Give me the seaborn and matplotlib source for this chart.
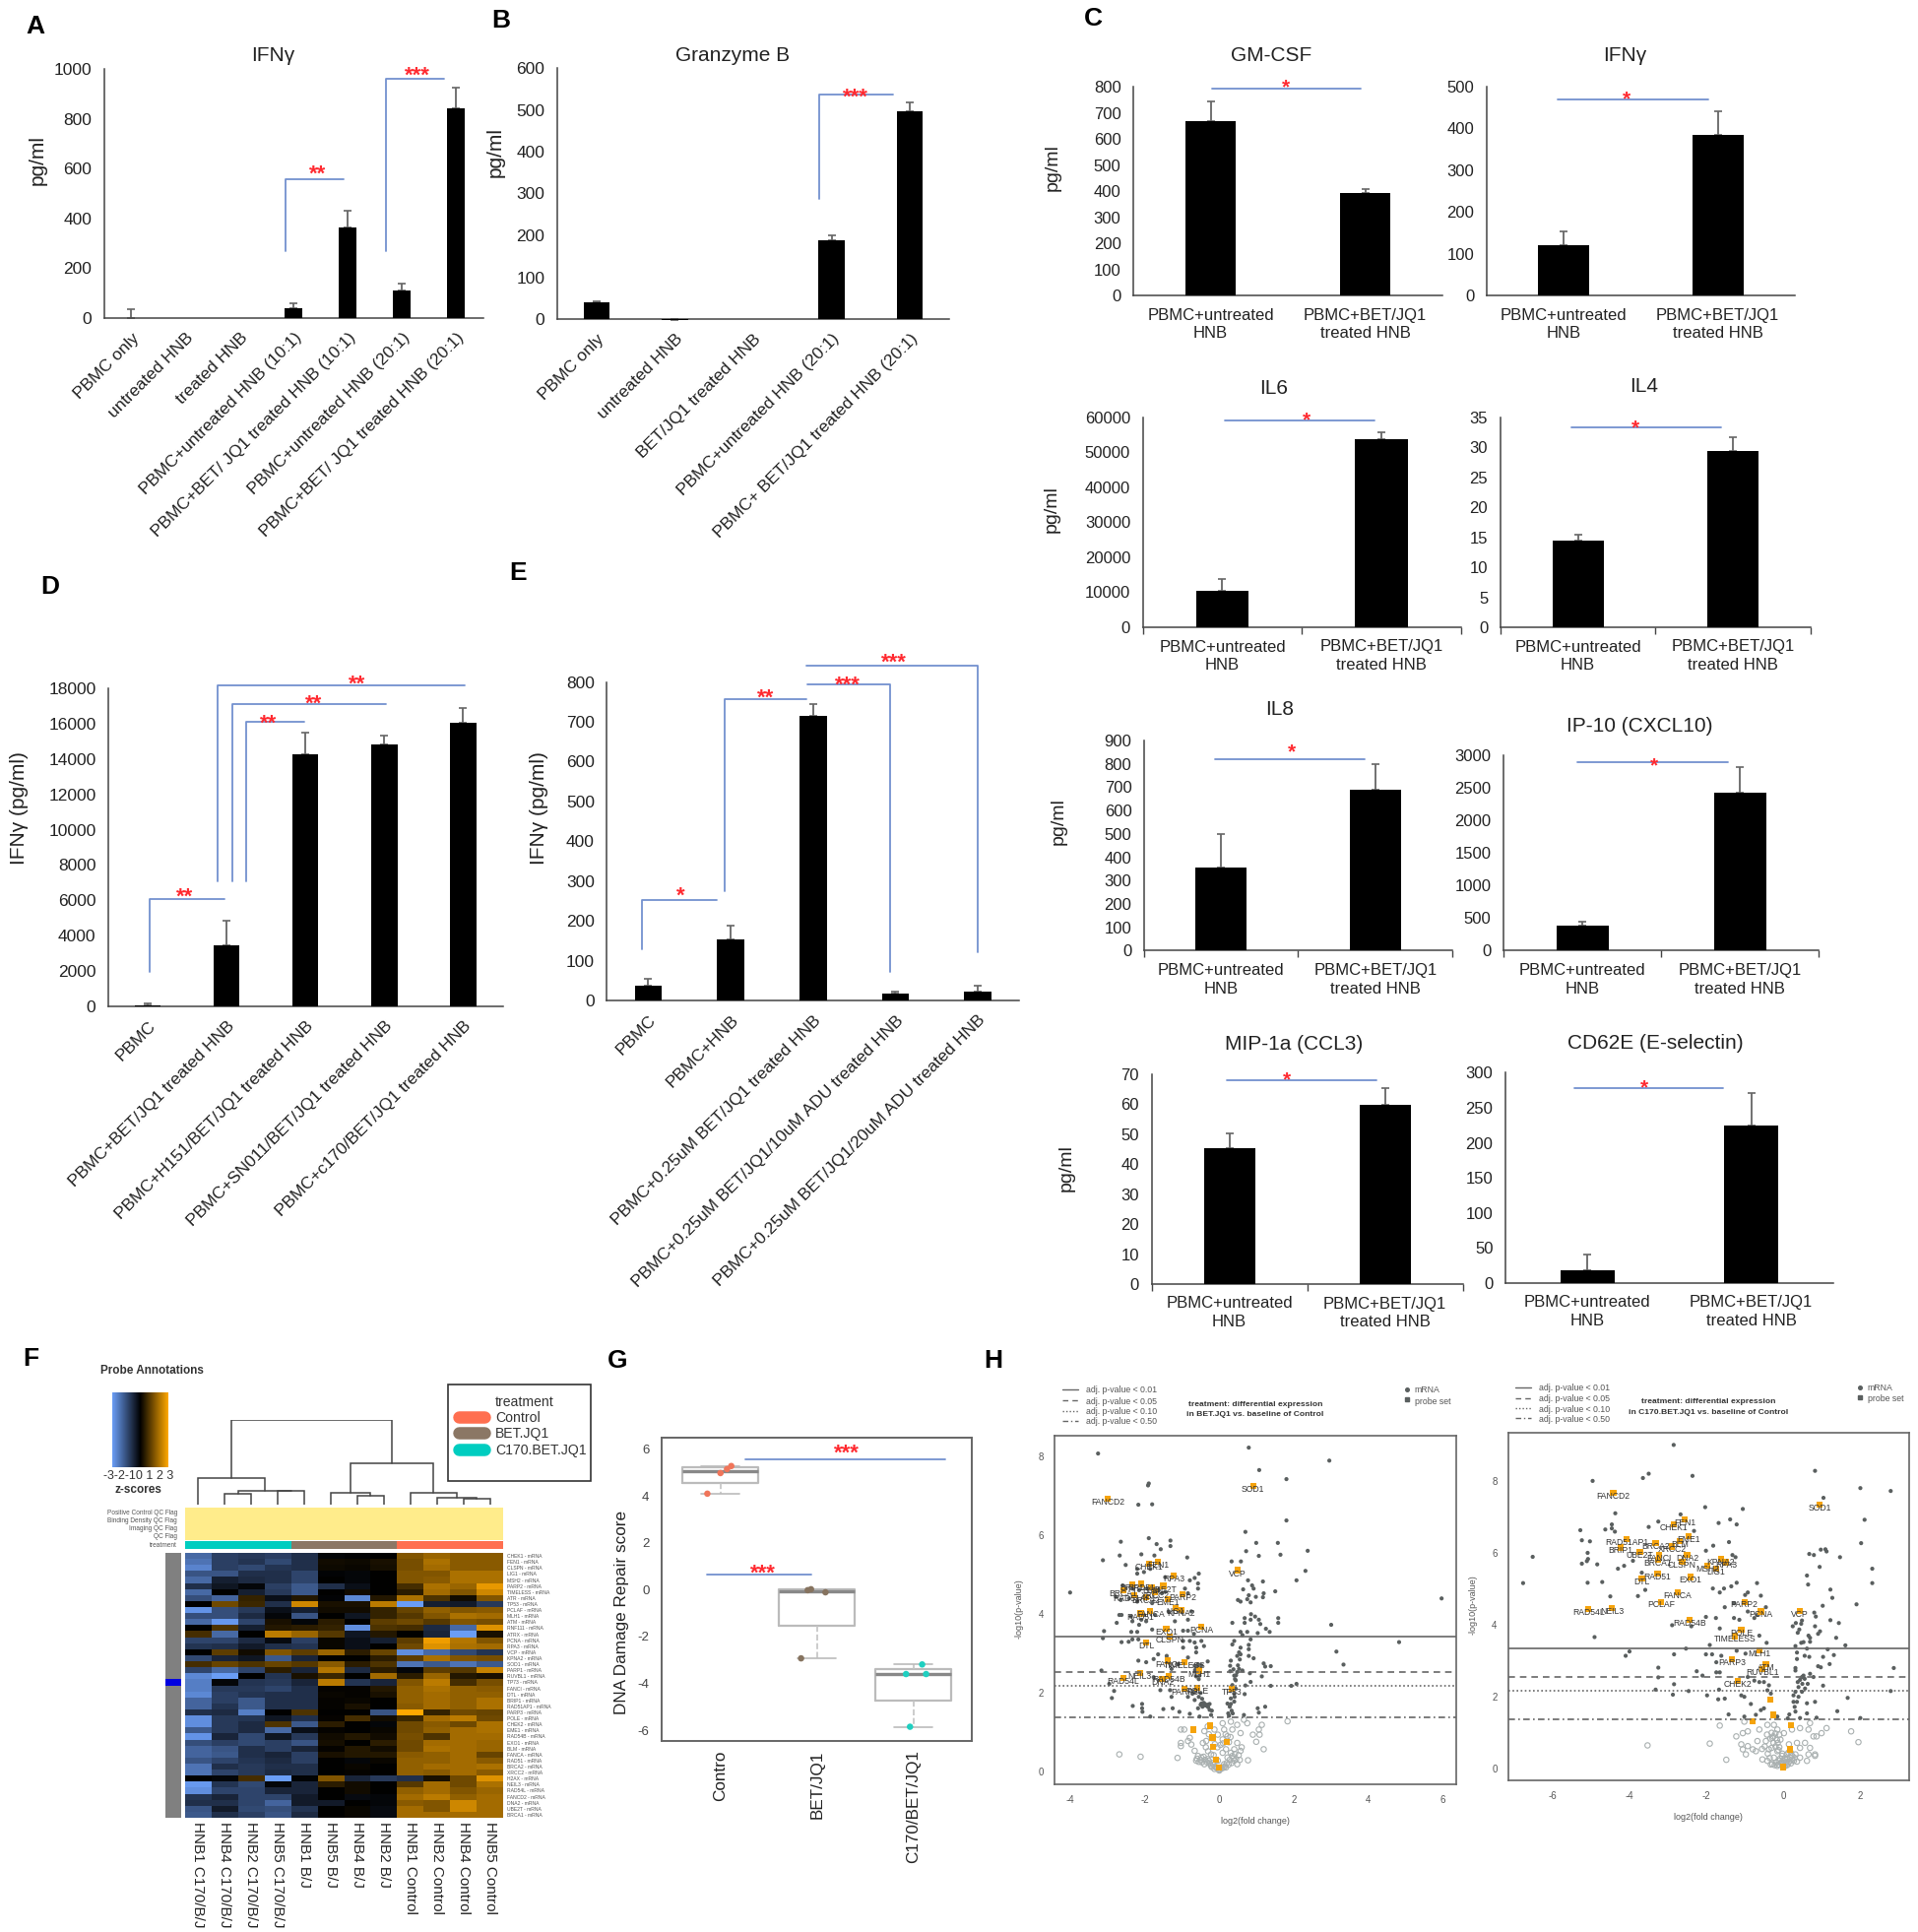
import numpy as np
import matplotlib
matplotlib.use("Agg")
import matplotlib.pyplot as plt
from matplotlib.colors import LinearSegmentedColormap, ListedColormap
from matplotlib.lines import Line2D
import seaborn as sns

sns.set_theme(style="white")
plt.rcParams['font.family'] = ['Liberation Sans', 'DejaVu Sans']
plt.rcParams['axes.unicode_minus'] = False

# ---------- bar panel data ----------
a_cats = ["PBMC only", "untreated HNB", "treated HNB", "PBMC+untreated HNB (10:1)",
          "PBMC+BET/ JQ1 treated HNB (10:1)", "PBMC+untreated HNB (20:1)",
          "PBMC+BET/ JQ1 treated HNB (20:1)"]
a_vals = [0, 0, 0, 40, 365, 112, 840]
a_tops = [35, 0, 0, 60, 432, 138, 925]

b_cats = ["PBMC only", "untreated HNB", "BET/JQ1 treated HNB", "PBMC+untreated HNB (20:1)",
          "PBMC+ BET/JQ1 treated HNB (20:1)"]
b_vals = [40, -2, 0, 188, 497]
b_tops = [42, 0, 0, 201, 517]

d_cats = ["PBMC", "PBMC+BET/JQ1 treated HNB", "PBMC+H151/BET/JQ1 treated HNB",
          "PBMC+SN011/BET/JQ1 treated HNB", "PBMC+c170/BET/JQ1 treated HNB"]
d_vals = [75, 3430, 14250, 14800, 16050]
d_tops = [180, 4850, 15500, 15300, 16900]

e_cats = ["PBMC", "PBMC+HNB", "PBMC+0.25uM BET/JQ1 treated HNB",
          "PBMC+0.25uM BET/JQ1/10uM ADU treated HNB", "PBMC+0.25uM BET/JQ1/20uM ADU treated HNB"]
e_vals = [37, 153, 715, 17, 23]
e_tops = [55, 187, 745, 22, 38]

c_cats = ["PBMC+untreated\nHNB", "PBMC+BET/JQ1\ntreated HNB"]
gm_vals, gm_tops = [668, 393], [743, 408]
ifn_vals, ifn_tops = [122, 384], [155, 440]
il6_vals, il6_tops = [10500, 53800], [13700, 55800]
il4_vals, il4_tops = [14.5, 29.3], [15.4, 31.7]
il8_vals, il8_tops = [355, 688], [500, 797]
ip10_vals, ip10_tops = [390, 2430], [450, 2820]
mip_vals, mip_tops = [45.2, 59.7], [50.4, 65.3]
cd62_vals, cd62_tops = [18, 224], [41, 271]

# ---------- heatmap data ----------
heat_columns = ["HNB1 C170/B/J", "HNB4 C170/B/J", "HNB2 C170/B/J", "HNB5 C170/B/J", "HNB1 B/J", "HNB5 B/J",
                "HNB4 B/J", "HNB2 B/J", "HNB1 Control", "HNB2 Control", "HNB4 Control", "HNB5 Control"]
heat_genes = ["CHEK1", "FEN1", "CLSPN", "LIG1", "MSH2", "PARP2", "TIMELESS", "ATR", "TP53", "PCLAF", "MLH1",
              "ATM", "RNF111", "ATRX", "PCNA", "RPA3", "VCP", "KPNA2", "SOD1", "PARP1", "RUVBL1", "TP73",
              "FANCI", "DTL", "BRIP1", "RAD51AP1", "PARP3", "POLE", "CHEK2", "EME1", "RAD54B", "EXO1", "BLM",
              "FANCA", "RAD51", "BRCA2", "XRCC2", "H2AX", "NEIL3", "RAD54L", "FANCD2", "DNA2", "UBE2T", "BRCA1"]
heat_values = [
    [-2.0, -1.2, -1.1, -1.2, -0.9, -0.1, -0.05, 0, 1.5, 1.8, 1.6, 1.6],
    [-2.2, -1.2, -1.0, -1.4, -0.9, 0.2, 0.15, 0.3, 1.4, 2.0, 1.6, 1.6],
    [-2.5, -1.2, -1.4, -1.0, -0.9, 0.15, 0.1, 0.25, 1.4, 1.9, 1.6, 1.6],
    [-1.6, -1.6, -0.9, -0.9, -1.3, -0.05, -0.1, 0, 1.5, 1.5, 2.0, 2.0],
    [-2.0, -0.6, -0.8, -0.9, -1.3, 0, -0.1, 0, 1.5, 1.6, 2.0, 2.0],
    [-0.9, -0.4, -0.1, -1.2, -1.7, -0.9, -0.3, 0, 0.8, 2.0, 1.8, 2.7],
    [-2.0, 0, -0.6, -1.1, -1.7, 0, 0.2, 0, 0.5, 1.9, 1.5, 2.4],
    [-1.5, -1.9, 0.6, -0.3, 0.4, -0.05, -2.6, 0.4, 2.0, 0.9, 0.2, 1.5],
    [0, 1.3, 0.7, -0.9, 2.4, 0.3, 0.3, 2.2, -3.0, -0.6, -0.5, -1.1],
    [-2.8, -1.5, -1.1, -0.3, -0.6, 0.2, 0.2, 0.6, 1.2, 1.7, 1.5, 1.6],
    [-1.5, -1.5, -0.8, -0.1, -1.6, 0, -0.4, 0.6, 1.0, 1.5, 2.0, 1.9],
    [-2.0, -2.9, -1.3, 0.3, -0.1, 0.5, 0, 1.1, 1.3, 1.0, 1.5, 1.4],
    [0, 0.9, -0.6, 0.4, 0.5, 0.6, -2.7, 0.9, 0.8, -0.8, -2.0, 2.6],
    [0.8, -2.0, 0, 2.2, 1.8, 1.0, -0.4, 0.4, 0, -0.7, -3.0, 0.3],
    [-1.3, -1.3, -0.8, -0.2, -1.2, 0.1, -0.3, -0.6, 1.1, 2.8, 2.1, 1.5],
    [-1.0, -0.9, -0.5, -0.9, -1.0, 0.1, -0.3, 0, 1.3, 2.6, 2.0, 1.9],
    [0, 1.1, 0.2, 1.5, 1.1, 1.8, 0.5, 1.2, -2.7, -2.0, -1.4, -1.0],
    [-1.4, -0.7, -0.4, -1.7, -0.7, 0, 0, 0.5, 1.1, 2.0, 1.5, 1.4],
    [0.8, 1.2, 0.9, 1.2, 1.0, 1.6, 0.5, 0.9, -2.2, -1.7, -2.2, -1.7],
    [-1.3, -2.0, -1.3, 0.5, -0.7, 2.1, -0.8, 0.5, -0.1, 1.1, 1.0, 2.3],
    [-2.6, -3.0, 0, -1.0, 0.3, 0.7, 0, 1.9, 0.5, 1.8, 0.4, 0.3],
    [-2.4, -0.1, -1.0, -1.1, -0.7, 2.2, -1.0, -0.7, 1.5, 2.2, 0.8, 1.4],
    [-2.4, -1.1, -1.1, -1.3, -0.9, 0.05, 0.05, 0.4, 1.7, 2.0, 1.7, 1.6],
    [-2.6, -1.2, -1.0, -0.9, -0.9, 0.1, 0.05, 0.3, 1.7, 1.9, 1.7, 1.7],
    [-1.9, -1.2, -1.7, -0.9, -0.9, 0.05, 0.1, 0, 1.7, 1.9, 1.7, 2.0],
    [-1.9, -1.0, -1.7, -0.9, -0.9, 0.05, 0.3, 0, 1.6, 1.9, 1.7, 2.0],
    [-0.9, -0.8, -2.4, 0, 0.9, 0, 0, -1.6, 3.0, 0.6, 1.3, 1.2],
    [-2.7, -1.1, -1.0, -0.4, -0.9, 0.05, 0.8, 0.2, 0.7, 1.9, 2.2, 1.3],
    [-2.7, -1.1, -0.8, 0.9, -1.7, 0.5, 0, -0.1, 1.3, 1.6, 1.3, 2.0],
    [-1.7, -1.1, -0.8, -2.0, -0.3, 0.05, 0, 0.1, 1.3, 1.7, 1.9, 2.0],
    [-2.8, -0.7, -1.4, -0.4, -1.1, 0.2, 0.4, 0.2, 1.4, 0.9, 1.9, 1.9],
    [-1.5, -1.2, -1.4, -1.2, -1.6, 0.25, 0, 0.5, 1.3, 1.9, 1.9, 1.8],
    [-1.9, -1.6, -0.9, -1.2, -0.7, 0.05, 0.4, 0.2, 1.3, 2.0, 1.9, 1.8],
    [-1.9, -1.7, -0.9, -0.7, -1.2, 0.3, 0.4, 0.4, 1.6, 1.7, 1.9, 1.2],
    [-1.6, -1.3, -1.0, -0.8, -1.2, 0, -0.1, 0.1, 1.7, 1.7, 1.9, 1.6],
    [-2.2, -0.9, -1.1, -0.9, -0.9, 0, 0.1, 0, 1.7, 1.9, 1.9, 2.0],
    [-2.2, -1.3, -1.1, -0.8, -0.9, 0, 0.05, 0, 1.7, 1.6, 1.9, 1.6],
    [0, -0.1, 0.8, -3.0, -0.05, 1.5, -0.7, -1.1, -0.9, 0.3, 1.3, 2.6],
    [-2.9, -1.0, -1.4, -0.1, -0.7, 0.5, 0.2, 0, 1.0, 1.9, 1.3, 2.0],
    [-2.7, -1.3, -1.3, -0.7, -0.7, 0, 0.2, 0, 1.7, 1.9, 1.5, 1.8],
    [-1.0, -0.7, -1.3, -1.3, -0.5, 0, -0.2, -0.1, 1.9, 2.2, 1.7, 1.9],
    [-0.9, -0.9, -1.3, -1.9, -0.5, -0.5, 0, -0.1, 1.6, 1.5, 2.4, 1.9],
    [-1.6, -0.5, -1.4, -1.5, -1.0, 0, 0.1, -0.2, 1.9, 1.5, 2.4, 1.9],
    [-1.7, -0.9, -1.2, -1.6, -0.8, 0, 0.1, -0.2, 1.9, 1.9, 1.9, 1.9],
]
heat_treatment = [0, 0, 0, 0, 1, 1, 1, 1, 2, 2, 2, 2]
heat_annotation = [0] * 21 + [1] + [0] * 22
# (child a, child b, height): leaves 0-11, merged nodes numbered from 12
dendro_merges = [(10, 11, 15), (9, 12, 18), (8, 13, 31), (3, 4, 35), (1, 2, 28), (16, 15, 35),
                 (0, 17, 69), (6, 7, 23), (5, 19, 31), (20, 14, 109), (18, 21, 223)]

# ---------- box panel data ----------
g_names = ["Contro", "BET/JQ1", "C170/BET/JQ1"]
g_control = [4.1, 4.98, 5.15, 5.28]
g_bet = [-2.93, -0.02, 0.02, -0.11]
g_c170 = [-3.6, -3.6, -3.19, -5.85]
g_jitter = [[-0.136, 0, 0.068, 0.112], [-0.164, -0.095, -0.061, 0.089], [-0.075, 0.133, 0.092, -0.034]]

# ---------- volcano data, BET.JQ1 ----------
v1_dark_x = [-3.25, 0.79, 1.07, 2.95, 1.8, -1.89, -1.91, -2.17, -1.8, 1.8, 0.7, -2.64, -1.89, -1.31, -1.31, -1.68, -1.57,
             -2.67, -2.09, -1.74, -3.12, -0.86, -2.51, 0.99, 1.57, 0.72, 1.06, 1.64, 2.37, 0.33, 0.58, 2.31, 2.07, -4.0,
             5.96, 3.0, 4.82, 3.14, 3.33, 1.5, 1.17, 1.19, 1.17, 0.98, 0.88, 0.92, 0.77, 0.64, 0.79, 0.75, 0.5, 0.57, 0.84,
             0.85, 0.96, 1.06, 0.68, 0.68, 0.84, 0.35, 1.1, 1.58, 1.58, 1.25, 1.35, 0.75, 1.03, 0.57, 0.62,
             0.4, 0.35, 0.84, 0.79, 0.79, 0.57, 0.53, 0.48, 0.79, 0.92, 0.31, 0.57, 0.29, 0.53, 1.19, 1.23, 1.38, 0.29, 0.48,
             0.62, 0.4, 0.82, 1.14, 0.44, 0.84, 1.38, 1.93, 2.07, 0.7, 0.31, 0.44, 0.4, 0.68, 0.31, 0.22, 0.4, 1.03, 1.23,
             1.06, 0.24, 0.66,
             -3.09, -3.12, -2.62, -2.75, -2.68, -2.62, -2.33, -2.36, -2.2, -2.17, -2.43, -2.33, -2.15, -2.09, -1.96, -1.8,
             -1.19, -0.84, -0.97, -0.84, -0.68, -1.36, -0.97, -0.79, -0.66, -0.48, -0.41, -0.62, -0.97, -0.62, -1.64, -2.17,
             -1.96, -1.76, -1.41, -0.84, -0.31, -0.57, -1.1, -1.28, -0.66, -3.16, -0.53, -1.76, -2.95, -2.82, -2.88, -1.58,
             -1.32, -1.28, -0.84, -0.66, -2.32, -2.07, -2.07, -2.06, -1.85, -1.5, -1.25, -1.07, -0.79, -0.57, -0.48, -0.4,
             -0.31, -0.26, -0.53, -0.22,
             -2.2, -2.02, -2.2, -1.85, -1.45, -0.79, -0.66, -0.55, -0.57, -0.57, -0.92, -0.84, -2.59, -2.77, -2.51, -2.33,
             -2.15, -1.93, -1.76, -1.63, -1.54, -1.45, -2.64, -2.42, -2.2, -1.8, -1.36, -1.72, -2.37, -2.02, -0.75,
             -0.5, -0.45, -0.42, -0.37, -0.33, -0.3, -0.26, -0.2, -0.55, -0.5, -0.46, -0.6, -0.66, -0.72, -0.58, -0.52,
             -0.65, -0.48, -0.62, -0.55, 0.28, 0.33, 0.36, 0.41, 0.45, 0.5, 0.55, 0.3, 0.35, 0.42, 0.26, 0.31, 0.38]
v1_dark_y = [8.08, 8.23, 7.66, 7.9, 7.43, 7.32, 7.27, 6.78, 6.79, 6.38, 6.09, 5.84, 5.93, 5.87, 5.73, 5.78, 5.65,
             5.49, 5.52, 5.49, 5.37, 5.44, 5.25, 5.81, 5.81, 5.6, 5.48, 5.51, 5.61, 5.34, 5.34, 5.1, 4.86, 4.55,
             4.4, 3.73, 3.29, 3.05, 2.72, 4.58, 4.83, 4.53, 4.43, 4.44, 4.73, 4.65, 4.86, 4.63, 4.48, 4.38, 4.36, 4.32, 4.3,
             4.0, 3.94, 3.86, 3.9, 3.78, 3.86, 3.78, 3.75, 3.9, 3.78, 3.63, 3.55, 3.55, 3.52, 3.55, 3.47,
             3.32, 3.23, 3.36, 3.22, 3.11, 3.15, 3.03, 2.94, 2.94, 2.88, 2.82, 2.98, 2.69, 2.61, 2.75, 2.67, 2.68, 2.55, 2.53,
             2.57, 2.44, 2.5, 2.42, 2.32, 2.28, 2.18, 2.18, 2.23, 2.19, 2.15, 2.11, 1.98, 1.97, 1.86, 1.73, 1.78, 1.61, 1.65,
             1.5, 1.48, 1.44,
             3.57, 3.39, 3.29, 3.78, 3.98, 3.98, 3.82, 3.55, 3.55, 3.36, 3.3, 3.36, 3.73, 3.86, 3.82, 3.61,
             3.82, 3.86, 3.58, 3.58, 3.5, 3.4, 3.32, 3.32, 3.28, 3.32, 3.19, 3.15, 3.15, 3.03, 2.98, 2.82,
             2.78, 2.86, 2.94, 2.9, 2.8, 2.73, 2.73, 2.61, 2.69, 2.57, 2.44, 2.4, 2.23, 2.05, 1.87, 2.07,
             2.07, 1.9, 1.9, 1.82, 1.67, 1.72, 1.61, 1.52, 1.4, 1.59, 1.61, 1.52, 1.47, 1.61, 1.73, 1.73,
             1.69, 1.57, 1.4, 1.44,
             5.15, 5.07, 5.03, 5.15, 4.94, 4.86, 4.92, 5.03, 4.78, 4.65, 4.65, 4.53, 4.73, 4.44, 4.65, 4.65,
             4.61, 4.65, 4.57, 4.61, 4.53, 4.57, 4.36, 4.4, 4.32, 4.28, 4.07, 3.98, 3.94, 3.98, 4.07,
             1.7, 1.65, 1.75, 1.68, 1.7, 1.64, 1.72, 1.55, 1.9, 2.0, 1.85, 2.1, 2.05, 1.98, 2.65, 2.55,
             2.58, 2.7, 2.42, 2.35, 1.65, 1.55, 1.48, 1.9, 2.45, 2.7, 2.85, 2.05, 2.2, 2.35, 1.42, 1.72, 2.6]
v1_open_x = [-2.68, -2.11, -1.12, 1.83, 1.19, 0.77, -1.03, -0.94, -0.79, -0.84, -1.03, -1.03, -0.75, -0.66, -0.4, -0.31, -0.35,
             -0.44, -0.57, -0.62, -0.48, -0.31, -0.4, -0.22, -0.13, 0, 0.04, 0.13, 0.22, 0.4, 0.48, 0.35, 0.09, 0.18, 0.4, 0.48,
             0.57, 0.09, -0.04, -0.13, 0.09, 0.31, 0.48, 0.66, 0.75, 1.14, 1.06, 1.08, 0.9, 0.99, 0.13, 0.35, 0.22, 0.57, -0.22,
             -0.04, -0.18, 0.18, 0.31,
             -0.6, -0.55, -0.5, -0.47, -0.42, -0.38, -0.33, -0.28, -0.25, -0.2, -0.16, -0.1, -0.07, -0.03, 0.02, 0.07, 0.11,
             0.15, 0.2, 0.25, 0.28, 0.33, 0.38, 0.42, 0.45, 0.52, 0.55, 0.6, -0.28, -0.2, -0.12, -0.05, 0.03, 0.1, 0.17,
             0.26, 0.3, -0.36, -0.3, -0.15]
v1_open_y = [0.44, 0.38, 0.35, 1.28, 0.57, 0.29, 1.07, 1.07, 0.86, 0.78, 0.73, 0.65, 0.69, 0.53, 1.03, 1.15, 0.78,
             0.73, 0.4, 0.28, 0.36, 0.32, 0.19, 0.15, 0.07, 0.03, 0.11, 0.19, 0.36, 0.28, 0.19, 0.4, 0.48, 0.57, 0.57, 0.73,
             0.53, 0.82, 0.94, 1.07, 1.23, 1.27, 1.19, 1.32, 1.23, 1.19, 1.07, 0.94, 0.94, 0.76, 1.07, 1.07, 0.9, 0.98, 0.44,
             0.28, 0.22, 0.11, 0.48,
             0.33, 0.25, 0.3, 0.24, 0.38, 0.3, 0.24, 0.28, 0.2, 0.12, 0.18, 0.12, 0.1, 0.06, 0.06, 0.09, 0.1,
             0.14, 0.22, 0.18, 0.3, 0.22, 0.34, 0.45, 0.32, 0.42, 0.3, 0.62, 0.95, 0.85, 0.7, 0.62, 0.68, 0.72, 0.95,
             0.75, 0.88, 0.62, 0.52, 0.42]
v1_gene_x = [-2.99, 0.91, 0.5, -1.88, -1.64, -1.22, -2.33, -2.09, -1.82, -1.5, -2.57, -2.27, -1.97, -1.72, -0.98, -1.39, -1.18,
             -1.02, -1.85, -2.11, -1.42, -0.48, -1.32, -1.96, -1.39, -0.94, -0.53, -2.13, -1.35, -2.57, -1.53, -0.94, -0.59,
             0.33, -0.24, -0.69, -0.18, 0.21, -0.17, -0.09, -0.02]
v1_gene_y = [6.93, 7.25, 5.12, 5.29, 5.34, 4.98, 4.75, 4.77, 4.69, 4.72, 4.6, 4.48, 4.43, 4.57, 4.51, 4.38, 4.16,
             4.1, 4.08, 4.02, 3.63, 3.68, 3.43, 3.28, 2.82, 2.78, 2.57, 2.51, 2.44, 2.38, 2.36, 2.11, 2.13,
             2.11, 1.17, 1.07, 0.87, 0.76, 0.64, 0.3, 0.11]
v1_gene_names = ["FANCD2", "SOD1", "VCP", "CHEK1", "FEN1", "RPA3", "BRIP1", "RAD51", "BLM", "UBE2T", "BRCA1", "RAD51AP1",
                 "BRCA2", "XRCC2", "PARP2", "EME1", "LIG1", "KPNA2", "FANCA", "RAD51", "EXO1", "PCNA", "CLSPN", "DTL",
                 "FANCI", "TIMELESS", "MLH1", "NEIL3", "RAD54B", "RAD54L", "DNA2", "PARP3", "POLE", "TP53",
                 "", "", "", "", "", "", ""]

# ---------- volcano data, C170.BET.JQ1 ----------
v2_dark_x = [-2.85, 0.83, 2.01, 2.8, -4.96, -3.65, -3.5, -2.36, 1.05, -2.03, -1.05, -4.37, -2.67, 2.12, -4.46, -4.46, -4.63,
             -4.38, -3.5, -3.25, -5.28, -5.24, -5.03, -1.68, -1.38, -1.21, -2.32, -5.09, -6.52, -5.24, -5.08, -5.11, -4.84,
             -6.77, -5.09, -4.71, 2.03, 0.98, 1.1, 1.13, 0.68, 0.8, 1.48, 0.95, 2.32, 0.62, 0.65, 2.32, 1.23, 1.28, 1.91, 1.03,
             0.81, 0.85, 1.23, 1.45, 0.49, 0.33, 0.25, 0.47, 0.83, 0.42, 0.38, 0.96, 0.91, 0.66, 0.7, 1.38, 0.7, 0.47, 0.53,
             0.32, 1.62, 0.62, 1.16, 0.36, 1.32, 0.56, 0.68, 1.04, 0.36, 1.21, 0.91, 0.98, 2.88, 0.32, 0.32, 0.7, 0.53, 0.49,
             0.79, 0.44, 0.56, 0.38, 0.5, 0.64, 0.4, 1.04, 0.57, 2.8, 0.32, 0.49, 0.27, 0.4, 1.68, 0.27, 0.83, 0.36, 0.3, 0.62,
             1.41, 0.32, 0.16, 0.62, 0.87, 2.01, 0.44,
             -4.3, -4.14, -3.91, -3.68, -3.78, -3.59, -4.5, -4.91, -4.0, -4.1, -2.89, -2.39, -2.01, -1.75, -1.65, -1.28, -1.14,
             -1.54, -1.65, -1.83, -1.35, -1.21, -0.68, -0.99, -0.92, -0.58, -1.28, -1.52, -0.92, -0.45, -0.75, -0.67, -2.01,
             -1.82, -1.32, -1.24, -1.41, -0.62, -0.43, -1.91, -2.53, -2.84, -2.01, -1.85, -1.61, -1.74, -1.21, -0.98, -3.25,
             -3.25, -3.32, -2.84, -2.87, -2.46, -2.25, -2.1, -1.98, -1.74, -1.65, -1.67, -1.69, -1.52, -1.09, -1.01, -0.92,
             -0.75, -0.62, -0.5, -0.37, -0.41, -0.84, -0.58, -0.71, -1.01, -1.42, -0.32, -0.5, 0.12, -0.15]
v2_dark_y = [9.0, 8.28, 7.8, 7.72, 8.0, 8.08, 8.2, 8.14, 7.53, 7.27, 7.22, 7.1, 7.07, 6.92, 6.79, 6.68, 6.65,
             6.59, 6.72, 6.87, 6.63, 6.35, 6.32, 6.83, 6.93, 6.79, 6.61, 6.0, 5.89, 5.7, 5.83, 5.77, 5.68,
             5.16, 5.17, 5.19, 6.27, 6.09, 6.1, 6.04, 5.97, 5.94, 5.88, 5.61, 5.56, 5.37, 5.12, 5.16, 4.98, 4.75, 4.57, 4.53,
             4.34, 4.23, 4.13, 4.05, 4.12, 4.05, 3.96, 4.03, 3.96, 3.87, 3.78, 3.82, 3.75, 3.7, 3.64, 3.64, 3.53, 3.5, 3.52,
             3.41, 3.43, 3.34, 3.32, 3.23, 3.16, 3.14, 3.11, 3.11, 3.05, 2.91, 2.85, 2.82, 2.8, 2.8, 2.73, 2.64, 2.59, 2.55,
             2.55, 2.47, 2.5, 2.41, 2.36, 2.36, 2.27, 2.31, 2.23, 2.16, 2.14, 2.14, 2.04, 2.0, 1.97, 1.86, 1.86, 1.86, 1.72, 1.82,
             1.6, 1.59, 1.51, 1.54, 1.42, 1.41, 1.41,
             5.56, 5.64, 5.78, 5.45, 4.8, 4.97, 4.79, 3.66, 3.26, 3.14, 3.99, 3.96, 4.22, 4.19, 3.9, 4.19, 4.14,
             5.01, 4.9, 5.01, 5.07, 5.17, 5.16, 4.83, 4.9, 4.81, 4.6, 4.49, 4.37, 4.49, 4.19, 4.28, 6.06,
             6.2, 5.94, 5.88, 6.3, 3.7, 3.5, 3.44, 3.34, 3.18, 3.18, 3.18, 3.14, 2.96, 3.28, 3.2, 2.81,
             2.54, 2.2, 2.35, 2.06, 2.16, 2.71, 2.59, 2.04, 2.68, 2.68, 2.2, 1.93, 1.95, 2.04, 2.0, 2.55,
             2.45, 2.41, 2.41, 2.32, 2.18, 1.8, 1.63, 1.5, 1.45, 1.51, 2.09, 1.68, 1.4, 1.45]
v2_open_x = [-3.53, -1.91, -1.48, 1.77, 1.96, -1.65, -1.22, -1.01, -1.05, -0.92, -1.09, -1.05, -0.92, -0.97, -0.67, -0.79, -0.54,
             -0.41, -0.28, -0.15, -0.03, 0.1, 0.23, 0.44, 0.62, 0.83, 0.79, 0.87, 1.13, 1.0, 0.66, 0.57, 0.7, 0.44, 0.36, 0.15,
             0.02, -0.15, -0.28, -0.45, -0.37, -0.15, -0.03, 0.1, -0.24, -0.62, -0.41, -0.24, 0.23, 0.44, 0.7, -0.07, 0.19,
             0.06, -0.11, 0.32, -0.71, 0.66, 0.83,
             -0.55, -0.48, -0.4, -0.35, -0.3, -0.25, -0.2, -0.16, -0.12, -0.08, -0.04, 0, 0.04, 0.08, 0.12, 0.16, 0.2, 0.24,
             0.28, -0.3, -0.26, -0.2, -0.14, -0.1, -0.02, 0.05, 0.14, -0.32, -0.22, -0.18, -0.12, 0.1, 0.02, -0.05, 0.2, 0.3,
             0.36, -0.42, -0.33, -0.1]
v2_open_y = [0.65, 0.7, 0.25, 1.04, 0.74, 1.2, 0.9, 1.31, 0.99, 1.04, 0.68, 0.54, 0.63, 0.4, 0.77, 0.54, 0.26,
             0.22, 0.13, 0.08, 0.16, 0.1, 0.26, 0.31, 0.22, 0.4, 0.9, 0.9, 1.13, 0.99, 1.09, 0.72, 0.58, 0.58, 0.72, 0.68,
             0.99, 1.09, 0.86, 0.77, 0.54, 0.49, 0.36, 0.4, 0.31, 1.09, 1.22, 1.22, 1.09, 1.13, 1.27, 0.81, 0.31,
             0.25, 0.22, 0.4, 0.49, 0.4, 0.36,
             0.55, 0.62, 0.42, 0.3, 0.58, 0.72, 0.62, 0.8, 0.52, 0.28, 0.18, 0.12, 0.07, 0.18, 0.13, 0.2, 0.15, 0.36,
             0.22, 1.0, 0.9, 0.98, 0.72, 0.95, 0.42, 0.3, 0.45, 0.12, 0.1, 0.17, 0.12, 0.28, 0.22, 0.15, 0.45, 0.3,
             0.2, 0.95, 0.84, 0.6]
v2_gene_x = [-4.42, 0.95, -2.56, -2.85, -2.46, -4.07, -2.7, -3.32, -2.89, -4.23, -3.73, -3.23, -2.5, -3.26, -1.62, -1.48, -2.63,
             -1.97, -1.75, -3.27, -3.68, -2.42, -2.75, -3.17, -1.01, -0.58, 0.43, -5.07, -4.46, -2.44, -1.09, -1.25, -0.62,
             -1.34, -0.45, -0.54, -1.19, -0.34, -0.26, -0.79, 0.21, 0.18, 0.0]
v2_gene_y = [7.66, 7.34, 6.93, 6.79, 6.47, 6.38, 6.32, 6.27, 6.18, 6.15, 6.03, 5.94, 5.94, 5.81, 5.83, 5.74, 5.76,
             5.65, 5.56, 5.42, 5.28, 5.33, 4.9, 4.64, 4.64, 4.37, 4.39, 4.44, 4.46, 4.14, 3.87, 3.69, 3.28,
             3.05, 2.91, 2.77, 2.45, 1.93, 1.5, 1.31, 1.2, 0.54, 0.05]
v2_gene_names = ["FANCD2", "SOD1", "FEN1", "CHEK1", "EME1", "RAD51AP1", "BLM", "BRCA2", "XRCC2", "BRIP1", "UBE2T", "FANCI",
                 "DNA2", "BRCA1", "KPNA2", "RPA3", "CLSPN", "MSH2", "LIG1", "RAD51", "DTL", "EXO1", "FANCA", "PCLAF",
                 "PARP2", "PCNA", "VCP", "RAD54L", "NEIL3", "RAD54B", "POLE", "TIMELESS", "MLH1", "PARP3", "ATM", "RUVBL1",
                 "CHEK2", "", "", "", "", "", ""]
pvalue_labels = ["adj. p-value < 0.01", "adj. p-value < 0.05", "adj. p-value < 0.10", "adj. p-value < 0.50"]
v1_thresholds = [3.44, 2.53, 2.18, 1.375]
v2_thresholds = [3.34, 2.54, 2.16, 1.38]

# ---------- layout ----------
W, H = 1949, 1962
fig = plt.figure(figsize=(W / 100, H / 100), dpi=100, facecolor="white")


def axpx(x0, y0, x1, y1, **kw):
    return fig.add_axes([x0 / W, 1 - y1 / H, (x1 - x0) / W, (y1 - y0) / H], **kw)


ov = fig.add_axes([0, 0, 1, 1], zorder=50)
ov.set_xlim(0, W)
ov.set_ylim(H, 0)
ov.axis("off")
ov.patch.set_alpha(0)

TXT = "#222222"
BLUE = "#7391cf"
RED = "#ff2a30"


def label(x, y, s, size=13, rot=0, weight="normal", color=TXT, ha="center", va="center"):
    ov.text(x, y, s, fontsize=size, rotation=rot, fontweight=weight, color=color, ha=ha, va=va)


def bracket(ax, xs, ys, star_x, star_y, n):
    ax.plot(xs, ys, color=BLUE, lw=1.3, clip_on=False, zorder=5)
    ax.annotate("*" * n, (star_x, star_y), xytext=(0, -5), textcoords="offset points", ha="center", va="center",
                fontsize=16, fontweight="bold", color=RED, annotation_clip=False, zorder=6)


def bars(box, cats, vals, tops, ymax, step, rot=45, fs=12.5, tick=12.5, xb=False):
    ax = axpx(*box)
    sns.barplot(x=cats, y=vals, color="black", width=0.33, saturation=1, ax=ax, zorder=3, linewidth=0)
    for p in ax.patches:
        p.set_clip_on(False)
    n = len(cats)
    v = np.array(vals, float)
    t = np.array(tops, float)
    keep = t > v
    ax.errorbar(np.arange(n)[keep], v[keep], yerr=[np.zeros(keep.sum()), (t - v)[keep]], fmt="none", ecolor="#666666",
                elinewidth=1.3, capsize=3, capthick=1.2, zorder=2, clip_on=False)
    ax.set_xlim(-0.5, n - 0.5)
    ax.set_ylim(0, ymax)
    ax.set_yticks(np.arange(0, ymax + step / 2, step))
    ax.set_xticks(range(n))
    if rot:
        ax.set_xticklabels(cats, rotation=rot, ha="right", rotation_mode="anchor", fontsize=fs, color=TXT)
    else:
        ax.set_xticklabels(cats, fontsize=fs, color=TXT, linespacing=1.3)
    ax.tick_params(axis="x", length=0, pad=9)
    ax.tick_params(axis="y", length=6, width=1, color="#444444", labelsize=tick, labelcolor=TXT, pad=3)
    if xb:
        ax.set_xticks([-0.5, 0.5, 1.5], minor=True)
        ax.tick_params(axis="x", which="minor", length=5, width=1, color="#444444", bottom=True)
    for s in ["top", "right"]:
        ax.spines[s].set_visible(False)
    for s in ["left", "bottom"]:
        ax.spines[s].set_color("#444444")
        ax.spines[s].set_linewidth(1.1)
    ax.set_xlabel("")
    ax.set_ylabel("")
    ax.patch.set_alpha(0)
    return ax


# Panels A, B
ax = bars((106, 70, 490.7, 323), a_cats, a_vals, a_tops, 1000, 200)
bracket(ax, [2.84, 2.84, 3.92], [268, 556, 556], 3.45, 603, 2)
bracket(ax, [4.7, 4.7, 5.77], [268, 962, 962], 5.28, 1000, 3)
label(277.7, 56, "IFNγ", 15)
label(37.7, 162, "pg/ml", 15, 90)
label(35.7, 27, "A", 19, weight="bold", color="black")

ax = bars((566, 69, 964, 324), b_cats, b_vals, b_tops, 600, 100)
bracket(ax, [2.84, 2.84, 3.79], [286.5, 536, 536], 3.3, 546, 3)
label(744, 56, "Granzyme B", 15)
label(502.7, 155, "pg/ml", 15, 90)
label(508.3, 21.4, "B", 19, weight="bold", color="black")

# Panel C
c_spec = [
    ((1151, 88, 1465, 300.4), "GM-CSF", gm_vals, gm_tops, 800, 100, False, (0.008, 0.97, 793, 0.49, 823), (1291, 57)),
    ((1510, 88, 1823, 300.4), "IFNγ", ifn_vals, ifn_tops, 500, 100, False, (-0.04, 0.94, 468.5, 0.41, 485), (1650, 57)),
    ((1160.6, 423.7, 1484, 637), "IL6", il6_vals, il6_tops, 60000, 10000, True, (0.014, 0.955, 59000, 0.529, 61100), (1293.6, 394)),
    ((1523.7, 423.7, 1839, 637), "IL4", il4_vals, il4_tops, 35, 5, True, (-0.04, 0.92, 33.3, 0.37, 34.3), (1669.6, 393)),
    ((1162, 752, 1475, 965.4), "IL8", il8_vals, il8_tops, 900, 100, True, (-0.04, 0.93, 819.5, 0.46, 878), (1300, 721)),
    ((1527, 767, 1847.5, 965.4), "IP-10 (CXCL10)", ip10_vals, ip10_tops, 3000, 500, True, (-0.03, 0.92, 2888, 0.456, 2947), (1665.7, 737.7)),
    ((1169.6, 1091, 1485.6, 1304), "MIP-1a (CCL3)", mip_vals, mip_tops, 70, 10, True, (-0.016, 0.946, 68, 0.37, 70.3), (1314, 1060.8)),
    ((1529, 1089.4, 1862, 1302.8), "CD62E (E-selectin)", cd62_vals, cd62_tops, 300, 50, False, (-0.08, 0.83, 278, 0.347, 288), (1681, 1059.5)),
]
for box, title, v, t, ymax, step, xb, br, tpos in c_spec:
    ax = bars(box, c_cats, v, t, ymax, step, rot=0, fs=12, tick=12, xb=xb)
    ax.plot(br[:2], [br[2], br[2]], color=BLUE, lw=1.3, clip_on=False)
    ax.annotate("*", (br[3], br[4]), xytext=(0, -5), textcoords="offset points", ha="center", va="center", fontsize=15,
                fontweight="bold", color=RED, annotation_clip=False)
    label(tpos[0], tpos[1], title, 15)
for x, y in [(1069, 170), (1068, 517), (1075, 834), (1083, 1186.5)]:
    label(x, y, "pg/ml", 14, 90)
label(1110, 19, "C", 19, weight="bold", color="black")

# Panel D
ax = bars((110, 699, 510.5, 1021.9), d_cats, d_vals, d_tops, 18000, 2000)
bracket(ax, [0.025, 0.025, 0.975], [1935, 6048, 6048], 0.475, 6580, 2)
bracket(ax, [1.244, 1.244, 1.99], [7065, 16113, 16113], 1.53, 16380, 2)
bracket(ax, [1.07, 1.07, 3.02], [7065, 17105, 17105], 2.1, 17470, 2)
bracket(ax, [0.88, 0.88, 4.02], [7065, 18190, 18190], 2.65, 18600, 2)
label(19.6, 820.6, "IFNγ (pg/ml)", 15, 90)
label(50.7, 596, "D", 19, weight="bold", color="black")

# Panel E
ax = bars((616.5, 692.6, 1035, 1016), e_cats, e_vals, e_tops, 800, 100)
bracket(ax, [-0.076, -0.076, 0.832], [129, 252, 252], 0.389, 278, 1)
bracket(ax, [0.925, 0.925, 1.92], [275, 756, 756], 1.43, 777, 2)
bracket(ax, [1.93, 2.93, 2.93], [793, 793, 71], 2.416, 808, 3)
bracket(ax, [1.92, 4.0, 4.0], [842, 842, 121], 2.98, 864, 3)
label(548, 821, "IFNγ (pg/ml)", 15, 90)
label(526, 582, "E", 19, weight="bold", color="black")

# Panel F
zcmap = LinearSegmentedColormap.from_list("z", ["#6a9df5", "#000000", "#ffa800"])
ax = axpx(188, 1577, 511, 1846)
sns.heatmap(np.array(heat_values), cmap=zcmap, vmin=-3, vmax=3, cbar=False, ax=ax,
            xticklabels=heat_columns, yticklabels=[g + " - mRNA" for g in heat_genes])
ax.yaxis.tick_right()
ax.tick_params(axis="y", length=0, labelsize=3.6, labelcolor="#555555", pad=3, labelrotation=0)
ax.tick_params(axis="x", length=0, pad=3)
ax.set_xticklabels(heat_columns, rotation=270, ha="center", va="top", fontsize=11, color=TXT)

ax = axpx(167.7, 1577, 184, 1846)
sns.heatmap(np.array(heat_annotation)[:, None], cmap=ListedColormap(["#808080", "#0000e0"]), cbar=False, ax=ax,
            xticklabels=False, yticklabels=False)

ax = axpx(188, 1531.4, 511, 1564)
ax.set_facecolor("#ffec8b")
ax.set_xticks([])
ax.set_yticks([])
sns.despine(ax=ax, left=True, bottom=True)

ax = axpx(188, 1564.7, 511, 1572.8)
sns.heatmap(np.array([heat_treatment]), cmap=ListedColormap(["#00cdc0", "#8b7765", "#ff6f50"]), cbar=False, ax=ax,
            xticklabels=False, yticklabels=False)

ax = axpx(188, 1442.3, 511, 1527.6)
node_x, node_h = {i: i + 0.5 for i in range(12)}, {i: 0 for i in range(12)}
for k, (a, b, h) in enumerate(dendro_merges):
    ax.plot([node_x[a], node_x[a], node_x[b], node_x[b]], [node_h[a], h, h, node_h[b]], color="#444444", lw=1.1,
            solid_joinstyle="miter")
    node_x[12 + k], node_h[12 + k] = (node_x[a] + node_x[b]) / 2, h
ax.set_xlim(0, 12)
ax.set_ylim(0, 223)
ax.axis("off")

ax = axpx(113.9, 1414, 170.8, 1490)
ax.imshow(np.linspace(-3, 3, 128)[None, :], cmap=zcmap, aspect="auto")
ax.axis("off")
label(154, 1391.8, "Probe Annotations", 8.5, weight="bold", color="#333333")
label(140.4, 1499, "-3-2-10 1 2 3", 9, color="#333333")
label(140.4, 1513.5, "z-scores", 8.5, weight="bold", color="#333333")
for y, s in zip([1536, 1544.5, 1553, 1561, 1569.7],
                ["Positive Control QC Flag", "Binding Density QC Flag", "Imaging QC Flag", "QC Flag", "treatment"]):
    label(180, y, s, 4.7, color="#555555", ha="right")
ov.add_patch(plt.Rectangle((455.5, 1406), 144.5, 98, fill=False, ec="#333333", lw=1.2))
label(503, 1424, "treatment", 10.1, ha="left", color="#333333")
for y, s, c in zip([1440, 1456, 1473], ["Control", "BET.JQ1", "C170.BET.JQ1"], ["#ff6f50", "#8b7765", "#00cdc0"]):
    label(503, y, s, 10.1, ha="left", color="#333333")
    ov.add_line(Line2D([466, 492], [y - 1, y - 1], color=c, lw=9, solid_capstyle="round"))
label(31.6, 1380, "F", 19, weight="bold", color="black")

# Panel G
ax = axpx(672, 1460, 987.3, 1767.6)
g_groups = [g_control, g_bet, g_c170]
stats = []
for vals in g_groups:
    s = sorted(vals)
    stats.append(dict(med=(s[1] + s[2]) / 2, q1=(s[0] + s[1]) / 2, q3=(s[2] + s[3]) / 2, whislo=s[0], whishi=s[3], fliers=[]))
ax.bxp(stats, positions=[0, 1, 2], widths=0.79, showfliers=False, manage_ticks=False,
       boxprops=dict(color="#bbbbbb", lw=1.6), medianprops=dict(color="#888888", lw=2.4),
       whiskerprops=dict(color="#c4c4c4", lw=1.2, ls="--"), capprops=dict(color="#bbbbbb", lw=1.2), capwidths=0.4)
for i, (vals, c) in enumerate(zip(g_groups, ["#f0755a", "#86735f", "#1fcfc0"])):
    sns.scatterplot(x=np.array(g_jitter[i]) + i, y=vals, color=c, s=22, edgecolor="none", ax=ax, zorder=5)
ax.set_xlim(-0.61, 2.61)
ax.set_ylim(-6.44, 6.49)
ax.set_yticks([-6, -4, -2, 0, 2, 4, 6])
ax.set_xticks([0, 1, 2])
ax.set_xticklabels(g_names, rotation=90, ha="center", va="top", fontsize=12.3, color=TXT)
ax.tick_params(axis="x", length=6, width=1.2, color="#555555", pad=1)
ax.tick_params(axis="y", length=6, width=1.2, color="#555555", labelsize=9.5, labelcolor="#444444", pad=3)
for s in ax.spines.values():
    s.set_color("#666666")
    s.set_linewidth(1.4)
ax.plot([0.256, 2.327], [5.56, 5.56], color=BLUE, lw=1.3)
ax.plot([-0.143, 0.947], [0.66, 0.66], color=BLUE, lw=1.3)
for x, y in [(1.305, 6.1), (0.436, 0.98)]:
    ax.annotate("***", (x, y), xytext=(0, -5), textcoords="offset points", ha="center", va="center", fontsize=16,
                fontweight="bold", color=RED)
label(632, 1637, "DNA Damage Repair score", 12.3, 90)
label(627.3, 1382, "G", 19, weight="bold", color="black")

# Panel H
LS = ["-", (0, (4, 3)), (0, (1, 1.5)), (0, (4, 2, 1, 2))]


def volcano(box, xlim, ylim, xticks, yticks, dx, dy, ox, oy, gx, gy, names, thr):
    ax = axpx(*box)
    sns.scatterplot(x=ox, y=oy, ax=ax, s=15, facecolor="none", edgecolor="#a9b0b0", linewidth=0.8, zorder=2)
    sns.scatterplot(x=dx, y=dy, ax=ax, s=9, color="#5a5f5f", edgecolor="none", zorder=3)
    sns.scatterplot(x=gx, y=gy, ax=ax, s=20, marker="s", color="#f5a30c", edgecolor="none", zorder=4)
    for x, y, n in zip(gx, gy, names):
        if n:
            ax.text(x, y - 0.09, n, fontsize=6.2, color="#333333", ha="center", va="center", zorder=5)
    for t, ls in zip(thr, LS):
        ax.axhline(t, color="#666666", lw=1.2, ls=ls, zorder=4)
    ax.set_xlim(*xlim)
    ax.set_ylim(*ylim)
    ax.set_xticks(xticks)
    ax.set_yticks(yticks)
    ax.tick_params(length=5, width=1, color="#666666", labelsize=7, labelcolor="#555555", pad=3)
    for s in ax.spines.values():
        s.set_color("#666666")
        s.set_linewidth(1.2)
    return ax


def volcano_text(lx0, lx1, tx, ly, title_lines, tcx, ty, mx, ux, mty, xl, xly, ylx, yly):
    for y, s, ls in zip(ly, pvalue_labels, LS):
        ov.add_line(Line2D([lx0, lx1], [y - 1, y - 1], color="#666666", lw=1.0, ls=ls))
        label(tx, y, s, 6.3, ha="left", color="#555555")
    for y, s in zip(ty, title_lines):
        label(tcx, y, s, 6.1, weight="bold", color="#333333")
    ov.plot([mx], [mty[0] - 1], marker="o", ms=2.6, color="#5a5f5f", ls="none")
    ov.plot([mx], [mty[1] - 2], marker="s", ms=3, color="#5a5f5f", ls="none")
    label(ux, mty[0], "mRNA", 6.3, ha="left", color="#555555")
    label(ux, mty[1], "probe set", 6.3, ha="left", color="#555555")
    label(xl, xly, "log2(fold change)", 6.5, color="#555555")
    label(ylx, yly, "-log10(p-value)", 6.5, 90, color="#555555")


volcano((1071.3, 1457.7, 1479.3, 1812), (-4.41, 6.36), (-0.32, 8.54), [-4, -2, 0, 2, 4, 6], [0, 2, 4, 6, 8],
        v1_dark_x, v1_dark_y, v1_open_x, v1_open_y, v1_gene_x, v1_gene_y, v1_gene_names, v1_thresholds)
volcano_text(1079, 1095, 1103, [1412, 1423, 1433.7, 1444],
             ["treatment: differential expression", "in BET.JQ1 vs. baseline of Control"], 1275, [1426, 1437],
             1429, 1436.7, [1412, 1423], 1275, 1850, 1035, 1633.6)

volcano((1531.7, 1455.3, 1939, 1808.3), (-7.16, 3.28), (-0.33, 9.33), [-6, -4, -2, 0, 2], [0, 2, 4, 6, 8],
        v2_dark_x, v2_dark_y, v2_open_x, v2_open_y, v2_gene_x, v2_gene_y, v2_gene_names, v2_thresholds)
volcano_text(1539, 1555, 1563, [1409.7, 1420.7, 1431, 1441],
             ["treatment: differential expression", "in C170.BET.JQ1 vs. baseline of Control"], 1735, [1423.7, 1434.7],
             1888.7, 1896.7, [1409.7, 1420.7], 1735, 1846, 1496, 1630)
label(1008.7, 1382, "H", 19, weight="bold", color="black")

fig.savefig("out.png", dpi=100, facecolor="white")
